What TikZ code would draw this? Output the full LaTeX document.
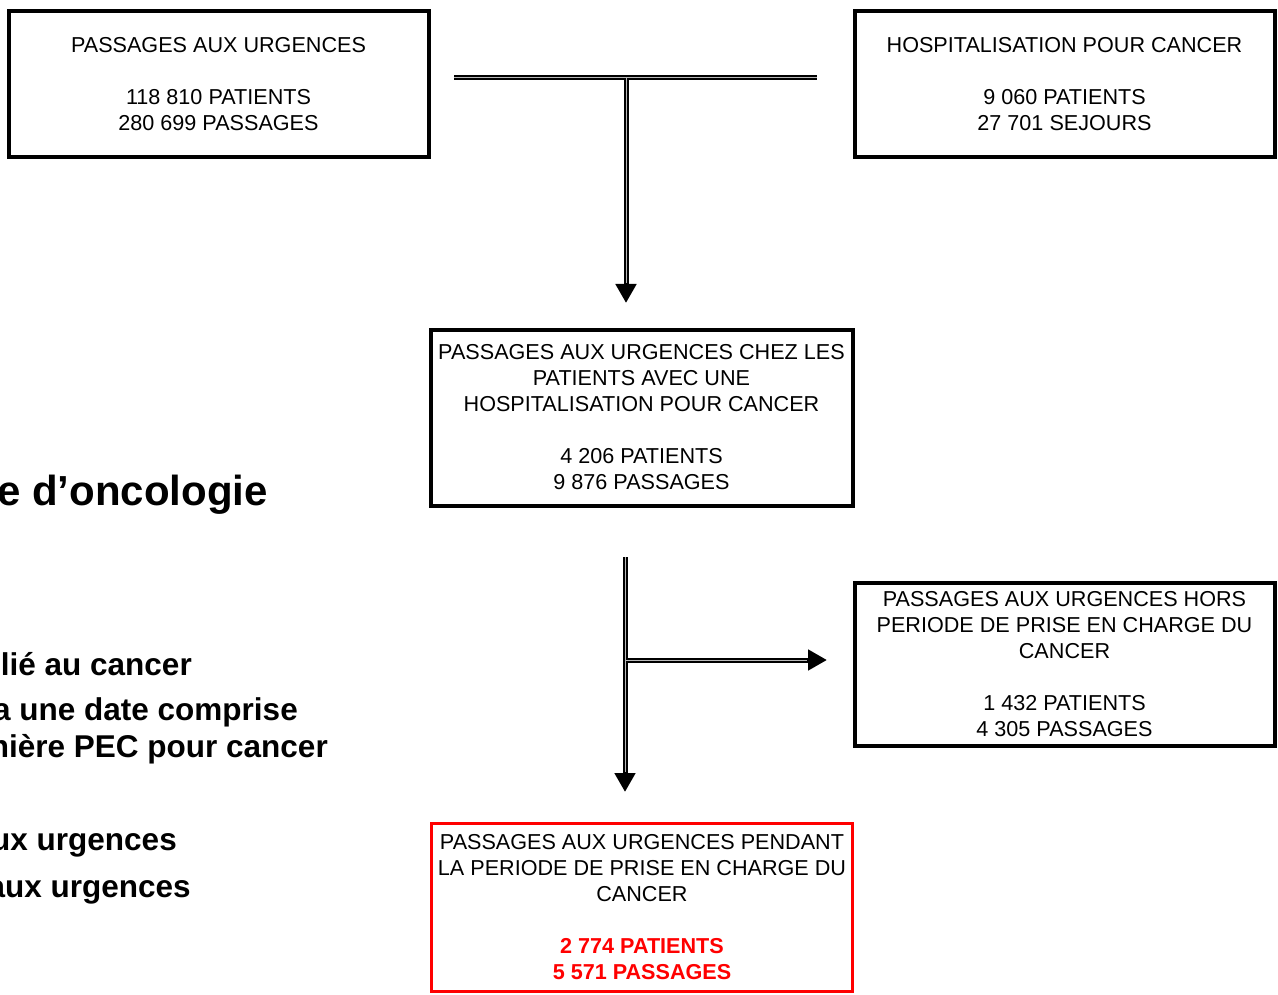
\documentclass[tikz,border=0pt]{standalone}
\usepackage{fontspec}
\setmainfont{Liberation Sans}
\usetikzlibrary{arrows.meta}
\begin{document}
\begin{tikzpicture}[x=1pt,y=-1pt,
  box/.style={draw=black, line width=4pt, inner sep=0pt, align=center, font=\fontsize{21.6}{26}\selectfont},
  redbox/.style={box, draw=red, line width=3.5pt},
  bgtext/.style={font=\bfseries\fontsize{31.5}{36}\selectfont, anchor=base east, inner sep=0pt},
  dline/.style={line width=5pt, draw=black},
  dcore/.style={line width=1pt, draw=gray!55},
  arrowline/.style={dline, -{Triangle[length=19pt,width=20pt]}},
]
\useasboundingbox (0,0) rectangle (1278,995);
\clip (0,0) rectangle (1278,995);

% background fragments of the slide
\node[bgtext, font=\bfseries\fontsize{42}{48}\selectfont] (b0) at (268,505) {e d’oncologie};
\node[bgtext] (b1) at (192,675) {lié au cancer};
\node[bgtext] (b2) at (298,720) {a une date comprise};
\node[bgtext] (b3) at (328,757) {nière PEC pour cancer};
\node[bgtext] (b4) at (177,850) {ux urgences};
\node[bgtext] (b5) at (191,897) {aux urgences};

% boxes
\node[box, minimum width=420pt, minimum height=146pt] (pau) at (218.5,84.5)
  {PASSAGES AUX URGENCES\\[26pt]118 810 PATIENTS\\280 699 PASSAGES};
\node[box, minimum width=420pt, minimum height=146pt] (hpc) at (1064.5,84.5)
  {HOSPITALISATION POUR CANCER\\[26pt]9 060 PATIENTS\\27 701 SEJOURS};
\node[box, minimum width=422pt, minimum height=176pt] (chez) at (641.5,417.5)
  {PASSAGES AUX URGENCES CHEZ LES\\PATIENTS AVEC UNE\\HOSPITALISATION POUR CANCER\\[26pt]4 206 PATIENTS\\9 876 PASSAGES};
\node[box, minimum width=420pt, minimum height=163pt] (hors) at (1064.5,664)
  {PASSAGES AUX URGENCES HORS\\PERIODE DE PRISE EN CHARGE DU\\CANCER\\[26pt]1 432 PATIENTS\\4 305 PASSAGES};
\node[redbox, minimum width=421pt, minimum height=168pt] (pend) at (642,907.5)
  {PASSAGES AUX URGENCES PENDANT\\LA PERIODE DE PRISE EN CHARGE DU\\CANCER\\[26pt]{\color{red}\bfseries 2 774 PATIENTS}\\{\color{red}\bfseries 5 571 PASSAGES}};

% connector coordinates
\coordinate (tl) at (454,78);
\coordinate (tr) at (817,78);
\coordinate (tj) at (626,78);
\coordinate (ta) at (626,303);
\coordinate (tac) at (626,283);
\coordinate (vs) at (625,557);
\coordinate (vj) at (625,660);
\coordinate (ve) at (625,792);
\coordinate (vec) at (625,772);
\coordinate (he) at (827,660);
\coordinate (hec) at (807,660);

% T junction
\draw[dline] (tl) -- (tr);
\draw[arrowline] (tj) -- (ta);
\draw[dcore] (tl) -- (tr);
\draw[dcore] (tj) -- (tac);

% split
\draw[arrowline] (vs) -- (ve);
\draw[arrowline] (vj) -- (he);
\draw[dcore] (vs) -- (vec);
\draw[dcore] (vj) -- (hec);
\end{tikzpicture}
\end{document}
